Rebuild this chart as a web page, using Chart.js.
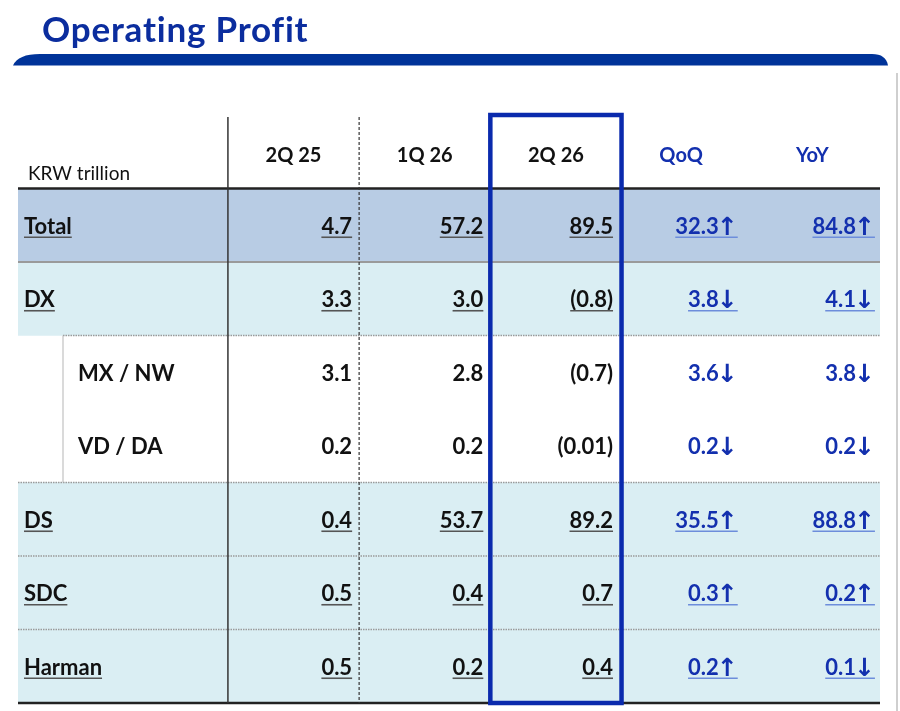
<!DOCTYPE html>
<html>
<head>
<meta charset="utf-8">
<script src="https://cdn.jsdelivr.net/npm/chart.js@4.4.1/dist/chart.umd.min.js"></script>
<style>
  html, body { margin: 0; padding: 0; background: #ffffff; }
  #wrap { position: relative; width: 900px; height: 711px; }
  #c { width: 900px !important; height: 711px !important; }
</style>
</head>
<body>
<div id="wrap"><canvas id="c"></canvas></div>
<script>
// ---- data ----
const titleText = 'Operating Profit';
const unitLabel = 'KRW trillion';
const columns = ['2Q 25', '1Q 26', '2Q 26', 'QoQ', 'YoY'];
const rowLabels = ['Total', 'DX', 'MX / NW', 'VD / DA', 'DS', 'SDC', 'Harman'];
const rowLevel = [0, 0, 1, 1, 0, 0, 0];
const q2_25 = [4.7, 3.3, 3.1, 0.2, 0.4, 0.5, 0.5];
const q1_26 = [57.2, 3.0, 2.8, 0.2, 53.7, 0.4, 0.2];
const q2_26 = [89.5, -0.8, -0.7, -0.01, 89.2, 0.7, 0.4];
const qoq = [32.3, -3.8, -3.6, -0.2, 35.5, 0.3, 0.2];
const yoy = [84.8, -4.1, -3.8, -0.2, 88.8, 0.2, -0.1];

// ---- style ----
const FONT = 'Lato, "Noto Sans", sans-serif';
const BLUE = '#1330ae';
const BLACK = '#111111';
const HEADER_KEY = ' ';
const colData = [q2_25, q1_26, q2_26, qoq, yoy];
const isChange = [false, false, false, true, true];
const rightPad = [7, 7, 8.5, 15, 9];
const headOffset = [0, 0, 0, -6, -6];
const rowFill = rowLevel.map((lv, i) => i === 0 ? '#b8cce4' : (lv === 0 ? '#daeef3' : 'rgba(255,255,255,0)'));

function fmtValue(v) {
  const a = Math.abs(v);
  const s = (a !== 0 && a < 0.1) ? a.toFixed(2) : a.toFixed(1);
  return v < 0 ? '(' + s + ')' : s;
}

function underline(ctx, x1, x2, yy, color) {
  ctx.save();
  ctx.strokeStyle = color;
  ctx.lineWidth = 1.6;
  ctx.beginPath();
  ctx.moveTo(x1, yy);
  ctx.lineTo(x2, yy);
  ctx.stroke();
  ctx.restore();
}

const tablePlugin = {
  id: 'tablePlugin',
  beforeDraw(chart) {
    const ctx = chart.ctx;
    ctx.save();
    ctx.fillStyle = '#ffffff';
    ctx.fillRect(0, 0, chart.width, chart.height);
    // title
    ctx.font = 'bold 35px ' + FONT;
    if ('letterSpacing' in ctx) ctx.letterSpacing = '0.8px';
    ctx.fillStyle = '#0b2d9e';
    ctx.textBaseline = 'alphabetic';
    ctx.textAlign = 'left';
    ctx.fillText(titleText, 42, 42);
    if ('letterSpacing' in ctx) ctx.letterSpacing = '0px';
    // band
    ctx.fillStyle = '#003399';
    ctx.beginPath();
    ctx.moveTo(13, 65.5);
    ctx.quadraticCurveTo(18, 54, 40, 54);
    ctx.lineTo(872, 54);
    ctx.quadraticCurveTo(886, 54, 888, 65.5);
    ctx.closePath();
    ctx.fill();
    // right edge
    ctx.strokeStyle = '#cfcfcf';
    ctx.lineWidth = 2;
    ctx.beginPath();
    ctx.moveTo(897, 73);
    ctx.lineTo(897, 711);
    ctx.stroke();
    ctx.restore();
  },
  afterDatasetsDraw(chart) {
    const { ctx, chartArea: a, scales: { x, y } } = chart;
    const ry = (r) => y.getPixelForValue(r + 1); // row r -> category index r+1 (header is index 0)
    const top = ry(-1.5);
    const bottom = ry(rowLabels.length - 0.5);
    ctx.save();

    // horizontal lines
    const hline = (val, x1, width, color, dash) => {
      ctx.save();
      ctx.strokeStyle = color;
      ctx.lineWidth = width;
      ctx.setLineDash(dash || []);
      const yy = ry(val);
      ctx.beginPath();
      ctx.moveTo(x1, yy);
      ctx.lineTo(a.right, yy);
      ctx.stroke();
      ctx.restore();
    };
    for (let r = 0; r < rowLabels.length - 1; r++) {
      const b = r + 0.5;
      if (rowLevel[r] === 1 && rowLevel[r + 1] === 1) continue;
      if (r === 0) { hline(b, a.left, 2, '#9a9a9a'); continue; }
      const x1 = rowLevel[r + 1] === 1 ? a.left + 45 : a.left;
      hline(b, x1, 1.5, '#9a9a9a', [1.5, 1]);
    }
    hline(-0.5, a.left, 2.5, '#222222');
    hline(rowLabels.length - 0.5, a.left, 2.5, '#222222');

    // sub-row indent line
    const firstSub = rowLevel.indexOf(1), lastSub = rowLevel.lastIndexOf(1);
    ctx.strokeStyle = '#b5b5b5';
    ctx.lineWidth = 1;
    ctx.beginPath();
    ctx.moveTo(a.left + 45, ry(firstSub - 0.5));
    ctx.lineTo(a.left + 45, ry(lastSub + 0.5));
    ctx.stroke();

    // vertical lines
    ctx.strokeStyle = '#333333';
    ctx.lineWidth = 1.5;
    ctx.beginPath();
    ctx.moveTo(x.getPixelForValue(0.5), top + 2);
    ctx.lineTo(x.getPixelForValue(0.5), bottom);
    ctx.stroke();
    ctx.save();
    ctx.lineWidth = 1.2;
    ctx.setLineDash([3, 2]);
    ctx.beginPath();
    ctx.moveTo(x.getPixelForValue(1.5), top + 2);
    ctx.lineTo(x.getPixelForValue(1.5), bottom);
    ctx.stroke();
    ctx.restore();

    // header
    const hy = ry(-1);
    ctx.textBaseline = 'alphabetic';
    ctx.font = '19px ' + FONT;
    ctx.fillStyle = BLACK;
    ctx.textAlign = 'left';
    ctx.fillText(unitLabel, a.left + 10, hy + 28);
    ctx.font = 'bold 20px ' + FONT;
    ctx.textAlign = 'center';
    columns.forEach((c, i) => {
      ctx.fillStyle = isChange[i] ? BLUE : BLACK;
      ctx.fillText(c, x.getPixelForValue(i + 1) + headOffset[i], hy + 10);
    });

    // body
    rowLabels.forEach((lab, r) => {
      const base = ry(r) + 8.5;
      const ul = rowLevel[r] === 0;
      ctx.font = 'bold 22px ' + FONT;
      ctx.fillStyle = BLACK;
      ctx.textAlign = 'left';
      const lx = a.left + (rowLevel[r] === 0 ? 6 : 60);
      ctx.fillText(lab, lx, base);
      if (ul) underline(ctx, lx, lx + ctx.measureText(lab).width, base + 3.5, '#555555');

      colData.forEach((arr, c) => {
        const v = arr[r];
        const rx = x.getPixelForValue(c + 1.5) - rightPad[c];
        ctx.textAlign = 'right';
        if (isChange[c]) {
          const arrow = v >= 0 ? '\u2191' : '\u2193';
          ctx.font = 'bold 25px "DejaVu Sans", sans-serif';
          ctx.fillStyle = BLUE;
          ctx.fillText(arrow, rx, base + 1);
          const aw = ctx.measureText(arrow).width - 2;
          ctx.font = 'bold 22px ' + FONT;
          const s = Math.abs(v).toFixed(1);
          ctx.fillText(s, rx - aw, base);
          const sw = ctx.measureText(s).width;
          if (ul) underline(ctx, rx - aw - sw, rx, base + 3.5, '#6d8ddb');
        } else {
          ctx.font = 'bold 22px ' + FONT;
          ctx.fillStyle = BLACK;
          const s = fmtValue(v);
          ctx.fillText(s, rx, base);
          if (ul) underline(ctx, rx - ctx.measureText(s).width, rx, base + 3.5, '#555555');
        }
      });
    });

    // highlight box around current quarter
    ctx.strokeStyle = '#0a2aad';
    ctx.lineWidth = 4.5;
    ctx.setLineDash([]);
    ctx.strokeRect(x.getPixelForValue(2.5), top, x.getPixelForValue(3.5) - x.getPixelForValue(2.5), bottom - top);
    ctx.restore();
  }
};

new Chart(document.getElementById('c'), {
  type: 'bar',
  data: {
    labels: [HEADER_KEY].concat(rowLabels),
    datasets: [{
      label: 'rows',
      data: rowLabels.map((lab) => ({ x: [-1.1, 5.47], y: lab })),
      backgroundColor: rowFill,
      borderWidth: 0,
      borderSkipped: false,
      barPercentage: 1,
      categoryPercentage: 1
    }]
  },
  options: {
    indexAxis: 'y',
    responsive: true,
    maintainAspectRatio: false,
    animation: false,
    events: [],
    layout: { padding: { left: 18, right: 20, top: 115, bottom: 8 } },
    plugins: { legend: { display: false }, tooltip: { enabled: false }, title: { display: false } },
    scales: {
      x: { type: 'linear', min: -1.1, max: 5.47, display: false },
      y: { type: 'category', offset: true, display: false }
    }
  },
  plugins: [tablePlugin]
});
</script>
</body>
</html>
